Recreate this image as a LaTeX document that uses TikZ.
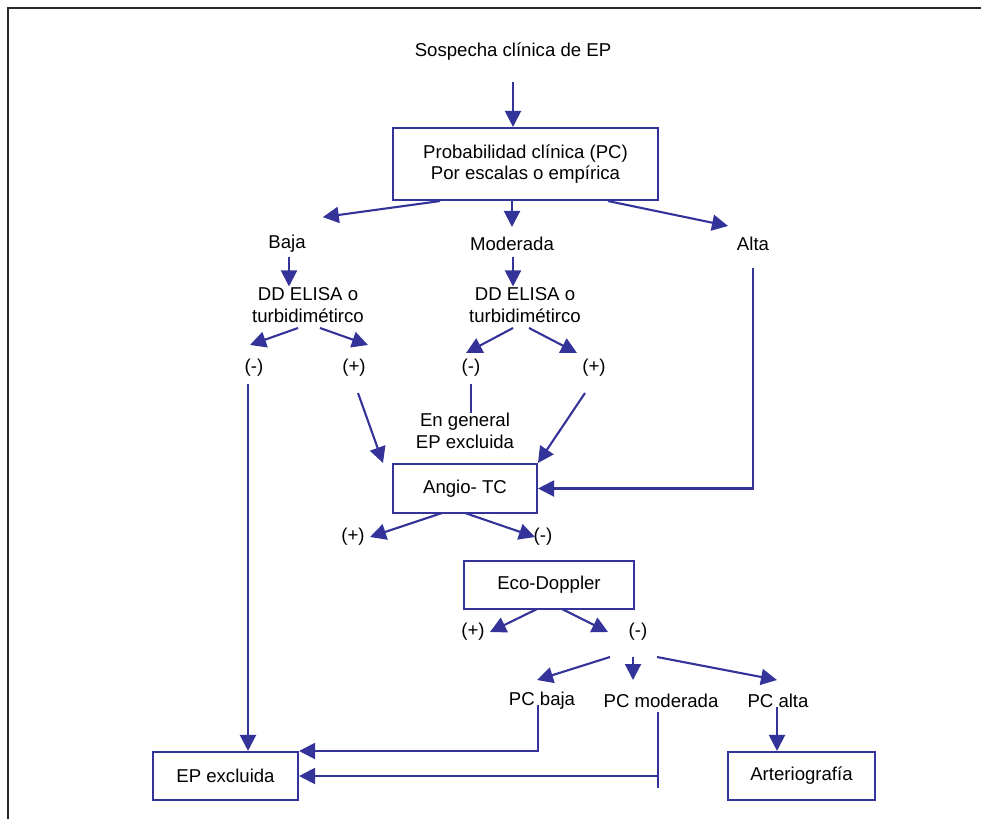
\documentclass[tikz,border=0pt]{standalone}
\usepackage{fontspec}
\setmainfont{Liberation Sans}
\usetikzlibrary{arrows.meta,calc}
\definecolor{ln}{RGB}{51,51,153}
\definecolor{frame}{RGB}{40,40,40}
\begin{document}
\begin{tikzpicture}[x=1pt,y=-1pt,
  every node/.style={font=\fontsize{18.6}{21.5}\selectfont, inner sep=0pt, align=center, text=black},
  lbl/.style={},
  boxnode/.style={draw=ln, line width=2.1pt},
  conn/.style={draw=ln, line width=2.1pt},
  arr/.style={conn, -{Triangle[length=16pt,width=16pt]}},
  ]
\useasboundingbox (0,0) rectangle (981,819);
\draw[frame, line width=2pt] (8,819) -- (8,8) -- (981,8);

% nodes
\node[lbl] (sos) at (513,52) {Sospecha clínica de EP};
\node[boxnode, minimum width=265pt, minimum height=72pt] (pc) at (525.5,164) {Probabilidad clínica (PC)\\Por escalas o empírica};
\node[lbl] (baja) at (287,244) {Baja};
\node[lbl] (mod) at (512,244) {Moderada};
\node[lbl] (alta) at (753,244) {Alta};
\node[lbl] (dd1) at (308,305) {DD ELISA o\\turbidimétirco};
\node[lbl] (dd2) at (525,305) {DD ELISA o\\turbidimétirco};
\node[lbl] (m1) at (254,368) {(-)};
\node[lbl] (p1) at (354,368) {(+)};
\node[lbl] (m2) at (471,368) {(-)};
\node[lbl] (p2) at (594,368) {(+)};
\node[lbl] (eng) at (465,431) {En general\\EP excluida};
\node[boxnode, minimum width=144pt, minimum height=49pt] (angio) at (465,488.5) {Angio- TC};
\node[lbl] (p3) at (353,537) {(+)};
\node[lbl] (m3) at (543,537) {(-)};
\node[boxnode, minimum width=170pt, minimum height=48pt] (eco) at (549,585) {Eco-Doppler};
\node[lbl] (p4) at (473,632) {(+)};
\node[lbl] (m4) at (638,632) {(-)};
\node[lbl] (pcb) at (542,701) {PC baja};
\node[lbl] (pcm) at (661,701) {PC moderada};
\node[lbl] (pca) at (778,701) {PC alta};
\node[boxnode, minimum width=145pt, minimum height=48pt] (epx) at (225.5,776) {EP excluida};
\node[boxnode, minimum width=147pt, minimum height=48pt] (art) at (801.5,776) {Arteriografía};

% connectors
\coordinate (c1) at (513,82);
\draw[arr] (c1) -- (c1 |- pc.north);

\draw[arr] ($(pc.south)+(-85.5,0)$) -- ($(baja.north east)+(17,-18)$);
\draw[arr] (pc.south -| mod) -- ($(mod.north)+(0,-10)$);
\draw[arr] ($(pc.south)+(82.5,0)$) -- ($(alta.north)+(-25,-11)$);

\draw[arr] (289,257) -- ($(dd1.north)+(-19,-1)$);
\draw[arr] (513,257) -- ($(dd2.north)+(-12,-1)$);

\coordinate (d1s) at (298,328);
\coordinate (d1t) at (320,328);
\draw[arr] (d1s) -- (250,345);
\draw[arr] (d1t) -- (368,345);
\coordinate (d2s) at (513,328);
\coordinate (d2t) at (529,328);
\draw[arr] (d2s) -- (466,353);
\draw[arr] (d2t) -- (577,353);

\draw[conn] (471,384) -- (eng.north -| 471,0);
\draw[arr] (358,393) -- (383,463);
\draw[arr] (585,393) -- (538,463);
\draw[arr] (753,268) -- (753,488.5) -- (angio.east);

\draw[arr] (442,513) -- (370,537);
\draw[arr] (465,513) -- (535,537);

\draw[arr] (537,609) -- (490,632);
\draw[arr] (562,609) -- (608,632);

\draw[arr] (610,657) -- (537,680);
\draw[arr] (633,657) -- (633,680);
\draw[arr] (657,657) -- (777,680);

\draw[arr] (248,384) -- (epx.north -| 248,0);
\draw[arr] (538,705) -- (538,751) -- (epx.east |- 0,751);
\draw[conn] (658,712) -- (658,788);
\draw[arr] (658,776) -- (epx.east);
\draw[arr] (777,707) -- (art.north -| 777,0);
\end{tikzpicture}
\end{document}
